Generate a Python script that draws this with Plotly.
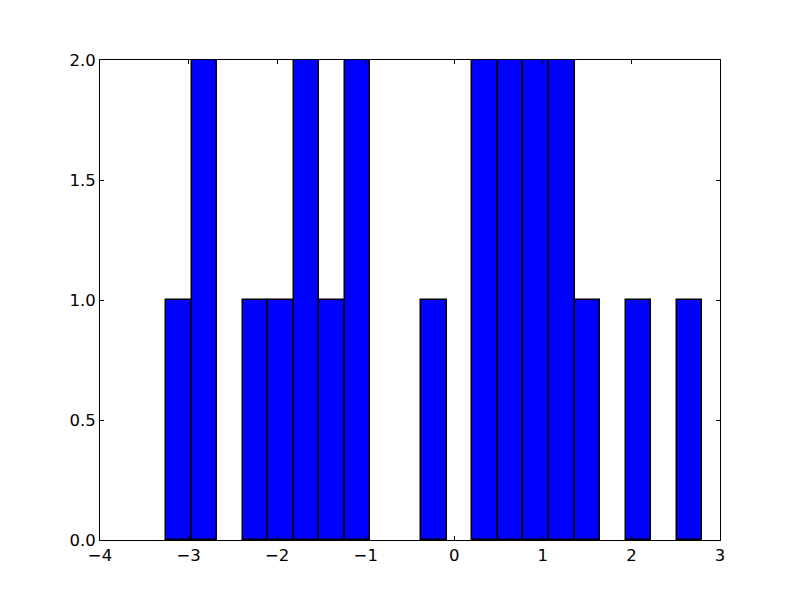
import plotly.graph_objects as go

bin_start = -3.255
bin_width = 0.2883
counts = [1, 2, 0, 1, 1, 2, 1, 2, 0, 0, 1, 0, 2, 2, 2, 2, 1, 0, 1, 0, 1]
x_ticks = [-4, -3, -2, -1, 0, 1, 2, 3]
y_ticks = [0.0, 0.5, 1.0, 1.5, 2.0]

centers = [bin_start + bin_width * (i + 0.5) for i in range(len(counts))]
xs = [c for c, n in zip(centers, counts) if n > 0]
ys = [n for n in counts if n > 0]

fig = go.Figure(go.Bar(
    x=xs, y=ys, width=[bin_width] * len(xs),
    marker=dict(color="#0000ff", line=dict(color="black", width=1.5)),
))

axis_common = dict(
    showline=True, mirror="ticks", linecolor="black", linewidth=1,
    ticks="inside", ticklen=4, tickcolor="black", tickwidth=1,
    showgrid=False, zeroline=False,
    tickfont=dict(family="DejaVu Sans", size=16.5, color="black"),
)

fig.update_layout(
    width=800, height=600,
    margin=dict(l=92, r=88, t=52, b=68),
    paper_bgcolor="white", plot_bgcolor="white",
    showlegend=False, bargap=0,
    xaxis=dict(range=[-4, 3], tickvals=x_ticks, **axis_common),
    yaxis=dict(range=[0, 2], tickvals=y_ticks, tickformat=".1f", **axis_common),
)

fig.write_html("out.html")
